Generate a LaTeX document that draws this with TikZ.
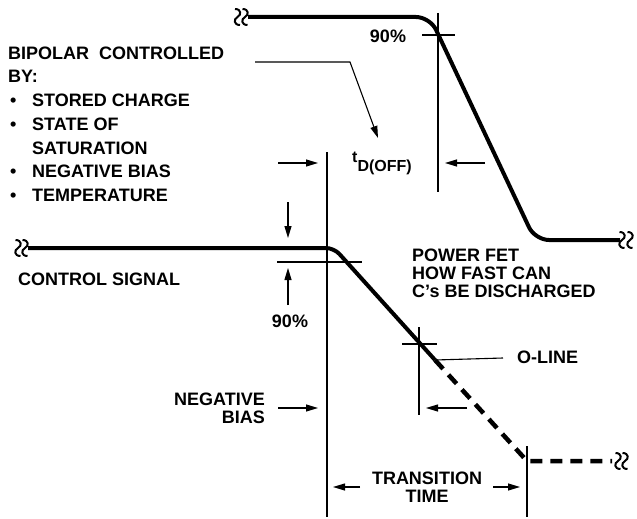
\documentclass[tikz,border=0pt]{standalone}
\usepackage{fontspec}
\setmainfont{Liberation Sans}
\usetikzlibrary{arrows.meta,calc}
\tikzset{
  wave/.style={line width=4pt,line join=round},
  dashwave/.style={line width=4.5pt,dash pattern=on 12pt off 8pt},
  guide/.style={line width=1.1pt},
  dimarrow/.style={-{Triangle[length=12pt,width=7pt]},line width=1.1pt},
  lbl/.style={inner sep=0pt,font=\fontsize{18}{18}\selectfont\bfseries},
  brk/.pic={\draw[line width=2pt] (-2.5,-8) .. controls (4,-8) and (4,-2) .. (0,0)
    .. controls (-4,2) and (-4,8) .. (2.5,8);}
}

\begin{document}
\begin{tikzpicture}[x=1pt,y=-1pt]
  \useasboundingbox (0,0) rectangle (637,519);
  % power fet waveform
  \coordinate (fetA) at (248,17);
  \coordinate (fetB) at (430,17);
  \coordinate (fetC) at (535,240);
  \coordinate (fetD) at (620,240);
  \draw[wave,rounded corners=14pt] (fetA) -- (fetB) -- (fetC) -- (fetD);
  \pic at (237.5,17) {brk}; \pic at (245,17) {brk};
  \pic at (622,240) {brk}; \pic at (630,240) {brk};
  % bipolar control signal
  \coordinate (bjtA) at (28,248);
  \coordinate (bjtB) at (334,248);
  \coordinate (bjtC) at (435,360);
  \coordinate (bjtD) at (527,461);
  \coordinate (bjtE) at (612,461);
  \draw[wave,rounded corners=8pt] (bjtA) -- (bjtB) -- (bjtC);
  \draw[dashwave] (bjtC) -- (bjtD) -- (bjtE);
  \pic at (18,248) {brk}; \pic at (25,248) {brk};
  \pic at (618,461) {brk}; \pic at (625,461) {brk};
  % guide lines
  \draw[guide] (327,152) -- (327,517);
  \draw[guide] (438,13) -- (438,192);
  \draw[guide] (419,327) -- (419,415);
  \draw[guide] (527,446) -- (527,517);
  \draw[guide] (422,35) -- (455,35);
  \draw[guide] (277,262) -- (362,262);
  \draw[guide] (402,344) -- (437,344);
  \draw[guide] (bjtC) -- (503,358);
  % labels
  \node[lbl,anchor=north west,align=left,font=\fontsize{18}{23.7}\selectfont\bfseries] (bipolar) at (8,46.5)
    {BIPOLAR\ \ CONTROLLED\\BY:\\
     \hspace*{2pt}\makebox[22pt][l]{\textbullet}STORED CHARGE\\
     \hspace*{2pt}\makebox[22pt][l]{\textbullet}STATE OF\\
     \hspace*{24pt}SATURATION\\
     \hspace*{2pt}\makebox[22pt][l]{\textbullet}NEGATIVE BIAS\\
     \hspace*{2pt}\makebox[22pt][l]{\textbullet}TEMPERATURE};
  \node[lbl,anchor=base] (pcttop) at (388,43) {90\%};
  \node[lbl,anchor=base west,font=\fontsize{16}{16}\selectfont\bfseries] (tdoff) at (352,162)
    {t\raisebox{-9pt}{D(OFF)}};
  \node[lbl,anchor=base west] (control) at (18,285) {CONTROL SIGNAL};
  \node[lbl,anchor=base] (pctbot) at (290,327) {90\%};
  \node[lbl,anchor=north east,align=right] (negbias) at (265,392.5) {NEGATIVE\\BIAS};
  \node[lbl,anchor=north west,align=left] (powerfet) at (412,249)
    {POWER FET\\HOW FAST CAN\\C’s BE DISCHARGED};
  \node[lbl,anchor=base west] (oline) at (517,363) {O-LINE};
  \node[lbl,anchor=north,align=center] (transition) at (427,472) {TRANSITION\\TIME};
  % arrows
  \draw[dimarrow] (255,62) -- (350,62) -- (378,138);
  \draw[dimarrow] (278,163) -- (318,163);
  \draw[dimarrow] (485,163) -- (445,163);
  \draw[dimarrow] (288,202) -- (288,238);
  \draw[dimarrow] (288,305) -- (288,268);
  \draw[dimarrow] (278,408) -- (318,408);
  \draw[dimarrow] (467,408) -- (426,408);
  \draw[dimarrow] (360,487) -- (333,487);
  \draw[dimarrow] (493,487) -- (520,487);
\end{tikzpicture}
\end{document}
